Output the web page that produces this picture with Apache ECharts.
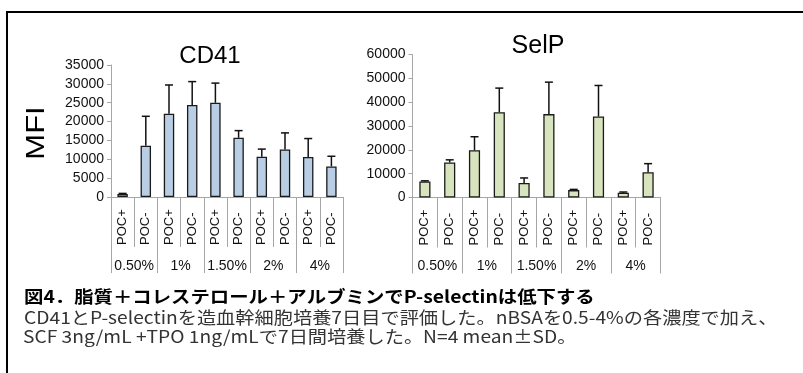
<!DOCTYPE html>
<html>
<head>
<meta charset="utf-8">
<script src="https://cdn.jsdelivr.net/npm/echarts@6/dist/echarts.min.js"></script>
<style>
html,body{margin:0;padding:0;background:#fff;}
#c{width:803px;height:373px;}
</style>
</head>
<body>
<div id="c"></div>
<script>
const categories = ['POC+','POC-','POC+','POC-','POC+','POC-','POC+','POC-','POC+','POC-'];
const groups = ['0.50%','1%','1.50%','2%','4%'];
const cd41Mean = [800, 13600, 22100, 24400, 25000, 15700, 10700, 12600, 10600, 8100];
const cd41Sd   = [150, 7800, 7600, 6200, 5200, 1900, 2000, 4400, 4900, 2700];
const selpMean = [6700, 14700, 19800, 35800, 6100, 35000, 3100, 34000, 2000, 10600];
const selpSd   = [300, 1100, 5700, 10100, 2100, 13400, 300, 13000, 300, 3600];
const cd41Axis = {max: 35000, interval: 5000};
const selpAxis = {max: 60000, interval: 10000};
const titles = ['CD41', 'SelP'];
const yName = 'MFI';
const caption1 = '図4．脂質＋コレステロール＋アルブミンでP-selectinは低下する';
const caption2 = 'CD41とP-selectinを造血幹細胞培養7日目で評価した。nBSAを0.5-4%の各濃度で加え、';
const caption3 = 'SCF 3ng/mL +TPO 1ng/mLで7日間培養した。N=4 mean±SD。';

const axisGray = '#a6a6a6';
const latin = 'Liberation Sans, Arial, sans-serif';
const jp = '"Noto Sans CJK JP", sans-serif';

function yAxis(gi, cfg) {
  return {
    type: 'value', gridIndex: gi, min: 0, max: cfg.max, interval: cfg.interval,
    axisLine: {show: true, lineStyle: {color: axisGray, width: 1}},
    axisTick: {show: true, length: 4, lineStyle: {color: axisGray}},
    splitLine: {show: false},
    axisLabel: {fontFamily: latin, fontSize: 14, color: '#111', margin: 7, formatter: v => String(v)}
  };
}
function xCat(gi) {
  return {
    type: 'category', gridIndex: gi, data: categories, position: 'bottom',
    axisLine: {show: true, lineStyle: {color: axisGray, width: 1}},
    axisTick: {show: true, length: 50, interval: 0, lineStyle: {color: axisGray}},
    axisLabel: {interval: 0, rotate: 90, align: 'left', verticalAlign: 'middle', margin: 48,
                fontFamily: latin, fontSize: 13, color: '#111'}
  };
}
function xGroup(gi) {
  return {
    type: 'category', gridIndex: gi, data: groups, position: 'bottom',
    axisLine: {show: false},
    axisTick: {show: true, length: 76, interval: 0, lineStyle: {color: axisGray}},
    axisLabel: {interval: 0, margin: 62, fontFamily: latin, fontSize: 14, color: '#111'}
  };
}
function errRender(params, api) {
  const x = api.value(0), m = api.value(1), s = api.value(2);
  const b = api.coord([x, m]);
  const t = api.coord([x, m + s]);
  const hw = 4;
  const st = {stroke: '#111', lineWidth: 1.5};
  return {type: 'group', children: [
    {type: 'line', shape: {x1: b[0], y1: b[1], x2: t[0], y2: t[1]}, style: st},
    {type: 'line', shape: {x1: t[0] - hw, y1: t[1], x2: t[0] + hw, y2: t[1]}, style: st}
  ]};
}

const chart = echarts.init(document.getElementById('c'), null, {renderer: 'canvas'});
chart.setOption({
  animation: false,
  backgroundColor: '#fff',
  grid: [
    {left: 111, top: 65, width: 232, height: 132, containLabel: false},
    {left: 412.5, top: 54.5, width: 248, height: 143, containLabel: false}
  ],
  xAxis: [xCat(0), xGroup(0), xCat(1), xGroup(1)],
  yAxis: [yAxis(0, cd41Axis), yAxis(1, selpAxis)],
  series: [
    {type: 'bar', xAxisIndex: 0, yAxisIndex: 0, data: cd41Mean, barWidth: '45%',
     itemStyle: {color: '#b9cde5', borderColor: '#1a1a1a', borderWidth: 1.3}},
    {type: 'custom', xAxisIndex: 0, yAxisIndex: 0, renderItem: errRender, z: 5,
     data: cd41Mean.map((m, i) => [i, m, cd41Sd[i]])},
    {type: 'bar', xAxisIndex: 2, yAxisIndex: 1, data: selpMean, barWidth: '45%',
     itemStyle: {color: '#d7e4bd', borderColor: '#1a1a1a', borderWidth: 1.3}},
    {type: 'custom', xAxisIndex: 2, yAxisIndex: 1, renderItem: errRender, z: 5,
     data: selpMean.map((m, i) => [i, m, selpSd[i]])}
  ],
  graphic: [
    {type: 'polyline', shape: {points: [[7, 373], [7, 12], [803, 12]]}, style: {stroke: '#000', lineWidth: 2, fill: null}},
    {type: 'text', x: 210, y: 56, style: {text: titles[0], font: '24px ' + latin, fill: '#000', align: 'center', verticalAlign: 'middle'}},
    {type: 'text', x: 538, y: 46, style: {text: titles[1], font: '25px ' + latin, fill: '#000', align: 'center', verticalAlign: 'middle'}},
    {type: 'text', x: 37, y: 133, rotation: Math.PI / 2, scaleY: 0.85, style: {text: yName, font: '31px ' + latin, fill: '#000', align: 'center', verticalAlign: 'middle'}},
    {type: 'text', x: 24, y: 297, scaleX: 1.14, style: {text: caption1, font: 'bold 17px ' + jp, fill: '#000', align: 'left', verticalAlign: 'middle'}},
    {type: 'text', x: 24, y: 317.5, scaleX: 1.13, style: {text: caption2, font: '17px ' + jp, fill: '#333', align: 'left', verticalAlign: 'middle'}},
    {type: 'text', x: 23, y: 337, scaleX: 1.13, style: {text: caption3, font: '17px ' + jp, fill: '#333', align: 'left', verticalAlign: 'middle'}}
  ]
});
</script>
</body>
</html>
